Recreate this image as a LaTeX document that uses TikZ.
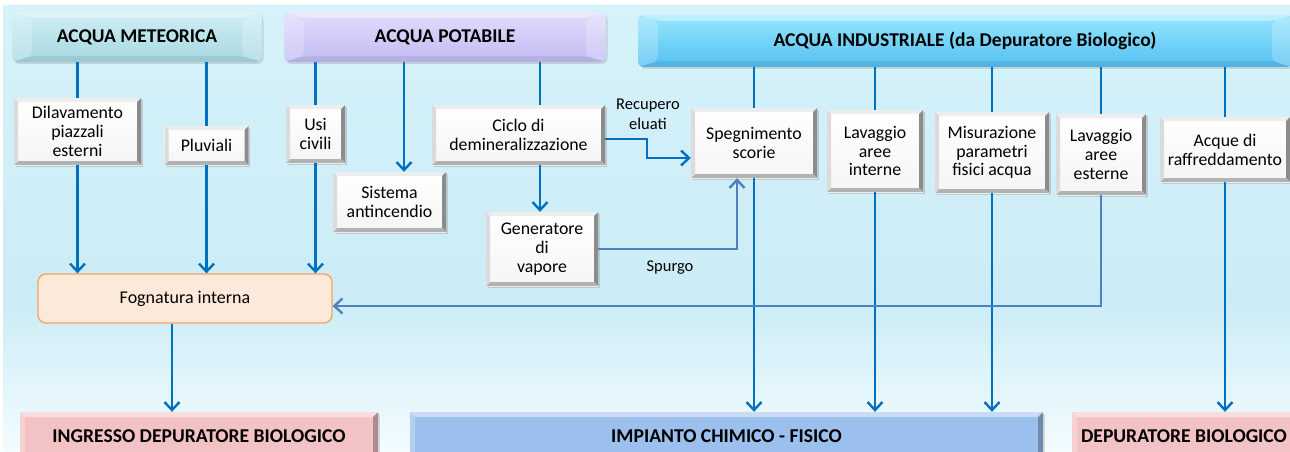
\documentclass[tikz,border=0pt]{standalone}
\usepackage{fontspec}
\setmainfont{Carlito}
\usetikzlibrary{arrows.meta,shadows,calc}
\definecolor{lnblue}{RGB}{0,112,192}
\definecolor{lnsteel}{RGB}{79,129,189}
\definecolor{metTop}{RGB}{206,238,243}
\definecolor{metBot}{RGB}{168,216,225}
\definecolor{potTop}{RGB}{224,220,252}
\definecolor{potBot}{RGB}{194,188,243}
\definecolor{indTop}{RGB}{150,230,253}
\definecolor{indBot}{RGB}{84,192,242}
\definecolor{pinkbox}{RGB}{242,194,196}
\definecolor{bluebox}{RGB}{155,192,238}
\definecolor{fogfill}{RGB}{253,233,217}
\definecolor{fogdraw}{RGB}{245,164,96}
\definecolor{bgA}{RGB}{214,242,250}
\definecolor{bgB}{RGB}{203,236,246}
\definecolor{bgC}{RGB}{244,252,255}
\tikzset{
  bevel/.style n args={5}{path picture={
    \path (path picture bounding box.north west) coordinate (bvNW)
          (path picture bounding box.north east) coordinate (bvNE)
          (path picture bounding box.south west) coordinate (bvSW)
          (path picture bounding box.south east) coordinate (bvSE);
    \fill[#1] (bvNW) -- (bvNE) -- ([shift={(-#5,-#5)}]bvNE) -- ([shift={(#5,-#5)}]bvNW) -- cycle;
    \fill[#2] (bvNE) -- (bvSE) -- ([shift={(-#5,#5)}]bvSE) -- ([shift={(-#5,-#5)}]bvNE) -- cycle;
    \fill[#3] (bvSE) -- (bvSW) -- ([shift={(#5,#5)}]bvSW) -- ([shift={(-#5,#5)}]bvSE) -- cycle;
    \fill[#4] (bvSW) -- (bvNW) -- ([shift={(#5,-#5)}]bvNW) -- ([shift={(#5,#5)}]bvSW) -- cycle;
  }},
  hdrpic/.style={path picture={
    \path (path picture bounding box.north west) coordinate (bvNW)
          (path picture bounding box.north east) coordinate (bvNE)
          (path picture bounding box.south west) coordinate (bvSW)
          (path picture bounding box.south east) coordinate (bvSE);
    \fill[white,opacity=.40] (bvNW) -- (bvNE) -- ([shift={(-20pt,-6pt)}]bvNE) -- ([shift={(20pt,-6pt)}]bvNW) -- cycle;
    \fill[white,opacity=.22] (bvNW) -- ([shift={(20pt,-6pt)}]bvNW) -- ([shift={(20pt,6pt)}]bvSW) -- (bvSW) -- cycle;
    \fill[white,opacity=.22] (bvNE) -- ([shift={(-20pt,-6pt)}]bvNE) -- ([shift={(-20pt,6pt)}]bvSE) -- (bvSE) -- cycle;
    \fill[black,opacity=.07] (bvSW) -- ([shift={(20pt,6pt)}]bvSW) -- ([shift={(-20pt,6pt)}]bvSE) -- (bvSE) -- cycle;
  }},
  hdr/.style 2 args={rectangle, rounded corners=6pt, top color=#1, bottom color=#2,
    hdrpic, drop shadow={shadow xshift=1.5pt, shadow yshift=-2pt, opacity=.25},
    inner sep=0pt, font=\fontsize{19.5}{21}\selectfont\bfseries, text=black},
  basebox/.style={rectangle, fill=#1, inner sep=0pt,
    bevel={white,opacity=.45}{black,opacity=.28}{black,opacity=.15}{white,opacity=.25}{5pt},
    drop shadow={shadow xshift=1.5pt, shadow yshift=-1.5pt, opacity=.25},
    font=\fontsize{19.6}{21}\selectfont\bfseries, text=black},
  wbox/.style={rectangle, top color=white, bottom color=black!4, inner sep=0pt, align=center,
    bevel={black!7}{black!45}{black!30}{black!14}{4pt},
    drop shadow={shadow xshift=1.5pt, shadow yshift=-1.5pt, opacity=.3},
    font=\fontsize{17.8}{18.8}\selectfont},
  sz/.style 2 args={minimum width=#1pt, minimum height=#2pt},
  ln/.style={draw=lnblue, line width=2.4pt},
  lnS/.style={draw=lnsteel, line width=2.4pt},
  arr/.style={-{Straight Barb[length=8pt,width=15pt]}},
  lbl/.style={font=\fontsize{16.5}{20}\selectfont, align=center, inner sep=0pt},
}
\begin{document}
\begin{tikzpicture}[x=1pt,y=-1pt]
\useasboundingbox (0,0) rectangle (1290,452);
\fill[white] (0,0) rectangle (1290,452);
\shade[top color=bgA, bottom color=bgB] (3,6) rectangle (1290,300);
\shade[top color=bgB, bottom color=bgC] (3,300) rectangle (1290,452);

% headers
\node[hdr={metTop}{metBot}, sz={250}{50}] (hmet) at (137,37) {ACQUA METEORICA};
\node[hdr={potTop}{potBot}, sz={322}{50}] (hpot) at (445,37) {ACQUA POTABILE};
\node[hdr={indTop}{indBot}, sz={654}{52}] (hind) at (965,41) {ACQUA INDUSTRIALE (da Depuratore Biologico)};

% bottom boxes
\node[basebox=pinkbox, sz={358}{48}] (bing) at (199,436) {INGRESSO DEPURATORE BIOLOGICO};
\node[basebox=bluebox, sz={633}{48}] (bimp) at (726.5,436) {IMPIANTO CHIMICO - FISICO};
\node[basebox=pinkbox, sz={224}{48}] (bdep) at (1184,436) {DEPURATORE BIOLOGICO};

% fognatura
\node[rectangle, rounded corners=8pt, fill=fogfill, draw=fogdraw, line width=1.3pt, sz={294}{49},
      font=\fontsize{18}{19}\selectfont] (fog) at (185,298.5) {Fognatura interna};

% white boxes
\node[wbox, sz={127}{67}] (dil) at (77.5,131.5) {Dilavamento\\piazzali\\esterni};
\node[wbox, sz={84}{39}] (plu) at (206.5,145.5) {Pluviali};
\node[wbox, sz={59}{58}] (usi) at (315.5,134) {Usi\\civili};
\node[wbox, sz={113}{60}] (sis) at (389.5,202) {Sistema\\antincendio};
\node[wbox, sz={173}{60}] (cic) at (518.5,135) {Ciclo di\\demineralizzazione};
\node[wbox, sz={112}{74}] (gen) at (542,249) {Generatore\\di\\vapore};
\node[wbox, sz={126}{70}] (spe) at (754,143) {Spegnimento\\scorie};
\node[wbox, sz={96}{82}] (lin) at (875,151) {Lavaggio\\aree\\interne};
\node[wbox, sz={114}{81}] (mis) at (992,152.5) {Misurazione\\parametri\\fisici acqua};
\node[wbox, sz={90}{81}] (les) at (1101,154.5) {Lavaggio\\aree\\esterne};
\node[wbox, sz={130}{65}] (acq) at (1225,149.5) {Acque di\\raffreddamento};

% helper coordinates
\coordinate (xsis) at (404,0);
\coordinate (xcic) at (540,0);
\coordinate (rA) at (647,139);
\coordinate (rB) at (647,158);
\coordinate (xsp) at (737,0);
\coordinate (yfog) at (0,306);
\coordinate (xfog) at (172,0);

% meteorica
\draw[ln] (hmet.south -| dil.north) -- (dil.north);
\draw[ln,arr] (dil.south) -- (dil.south |- fog.north);
\draw[ln] (hmet.south -| plu.north) -- (plu.north);
\draw[ln,arr] (plu.south) -- (plu.south |- fog.north);
% potabile
\draw[ln] (hpot.south -| usi.north) -- (usi.north);
\draw[ln,arr] (usi.south) -- (usi.south |- fog.north);
\draw[ln,arr] (hpot.south -| xsis) -- (xsis |- sis.north);
\draw[ln] (hpot.south -| xcic) -- (xcic |- cic.north);
\draw[ln,arr] (xcic |- cic.south) -- (xcic |- gen.north);
\draw[ln,arr,line join=miter] (cic.east |- rA) -- (rA) -- (rB) -- (rB -| spe.west);
\node[lbl] (lrec) at (648,114) {Recupero\\eluati};
\draw[lnS,arr,line join=miter] (gen.east) -- (gen.east -| xsp) -- (xsp |- spe.south);
\node[lbl] (lspu) at (670,268) {Spurgo};
% industriale
\draw[ln] (hind.south -| spe.north) -- (spe.north);
\draw[ln,arr] (spe.south) -- (spe.south |- bimp.north);
\draw[ln] (hind.south -| lin.north) -- (lin.north);
\draw[ln,arr] (lin.south) -- (lin.south |- bimp.north);
\draw[ln] (hind.south -| mis.north) -- (mis.north);
\draw[ln,arr] (mis.south) -- (mis.south |- bimp.north);
\draw[ln] (hind.south -| les.north) -- (les.north);
\draw[lnS,arr,line join=miter] (les.south) -- (les.south |- yfog) -- (yfog -| fog.east);
\draw[ln] (hind.south -| acq.north) -- (acq.north);
\draw[ln,arr] (acq.south) -- (acq.south |- bdep.north);
% fognatura
\draw[ln,arr] (xfog |- fog.south) -- (xfog |- bing.north);
\end{tikzpicture}
\end{document}
